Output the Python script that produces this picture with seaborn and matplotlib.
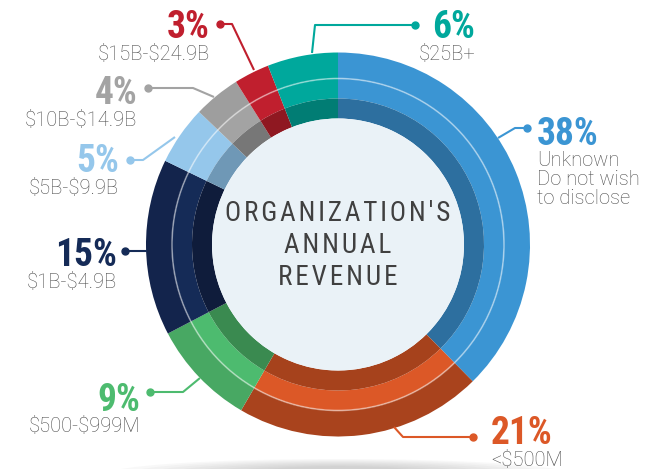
import numpy as np
import pandas as pd
import matplotlib
matplotlib.use('Agg')
import matplotlib.pyplot as plt
from matplotlib import font_manager
from matplotlib.patches import Circle, Ellipse
import seaborn as sns

# data: clockwise from 12 o'clock
categories = ['Unknown\nDo not wish\nto disclose', '<$500M', '$500-$999M', '$1B-$4.9B',
              '$5B-$9.9B', '$10B-$14.9B', '$15B-$24.9B', '$25B+']
shares = [38, 21, 9, 15, 5, 4, 3, 6]
pct_labels = ['38%', '21%', '9%', '15%', '5%', '4%', '3%', '6%']
title_lines = ["ORGANIZATION'S", 'ANNUAL', 'REVENUE']

# ring colours (outer, middle, inner) per segment
outer_cols = ['#3b95d3', '#a9431d', '#48a863', '#13244c', '#95c7eb', '#9e9e9e', '#c01f2e', '#00a89c']
mid_cols = ['#3b95d3', '#dc5827', '#4dbb6f', '#152b57', '#95c7eb', '#a3a3a3', '#c01f2e', '#00a89c']
inner_cols = ['#2d6f9f', '#a6421c', '#3a8a50', '#0f1c3b', '#6f98b6', '#777777', '#8f1821', '#017d74']

# label layout in pixel coords: (x, pct baseline, sub top, align, leader line points)
layout = [
    (537, 145, 151, 'left', [(527, 128), (515, 128), (498, 138)]),
    (491, 444, 451, 'left', [(473, 437), (403, 437), (394, 427)]),
    (140, 411, 417, 'right', [(150, 392), (183, 392), (200, 378)]),
    (117, 266, 273, 'right', [(125, 251), (147, 251)]),
    (119, 172, 179, 'right', [(130, 160), (143, 160), (175, 137)]),
    (137, 104, 111, 'right', [(148, 88), (193, 88), (214, 97)]),
    (210, 38, 45, 'right', [(220, 24), (232, 24), (254, 70)]),
    (475, 38, 45, 'right', [(415, 25), (315, 25), (312, 53)]),
]

sns.set_theme(style='white')
names = {f.name for f in font_manager.fontManager.ttflist}
body_font = 'Roboto' if 'Roboto' in names else 'DejaVu Sans'
cond_font = body_font
for cand in ['Roboto Condensed', 'Liberation Sans Narrow', 'Open Sans Condensed']:
    if cand in names:
        cond_font = cand
        break
plt.rcParams['font.family'] = [body_font, 'DejaVu Sans']
plt.rcParams['text.parse_math'] = False

fig = plt.figure(figsize=(6.72, 4.69), dpi=100)
ax = fig.add_axes([0, 0, 1, 1])

cx, cy, R = 338, 244.5, 192

# soft shadow under the ring
for i in range(8):
    ax.add_patch(Ellipse((cx, 474), 460 - i * 40, 30 - i * 2, color='#888888',
                         alpha=0.05, lw=0, zorder=0))

ring_specs = [(R, 26, outer_cols), (166, 20, mid_cols), (146, 20, inner_cols)]
for radius, width, cols in ring_specs:
    ax.pie(shares, colors=cols, radius=radius, center=(cx, cy), startangle=-90,
           counterclock=True, wedgeprops=dict(width=width, linewidth=0), frame=True)

# thin light line between outer and middle band
ax.add_patch(Circle((cx, cy), 166, fill=False, edgecolor='white', alpha=0.45, lw=1.2, zorder=5))
# centre disc
ax.add_patch(Circle((cx, cy), 126, facecolor='#eaf2f7', edgecolor='none', zorder=6))

for line, yb in zip(title_lines, [221, 253, 285]):
    spaced = '\u200a'.join(line)
    ax.text(cx, yb, spaced, ha='center', va='baseline', fontsize=19.5,
            color='#404040', family=[cond_font, 'DejaVu Sans'], zorder=7)

for cat, pct, col, lay in zip(categories, pct_labels, mid_cols, layout):
    x, yp, ys, ha, pts = lay
    ax.text(x, yp, pct, ha=ha, va='baseline', fontsize=27, fontweight='bold',
            color=col, family=cond_font, zorder=8)
    ax.text(x, ys, cat, ha=ha, va='top', fontsize=14.5, color='#4d4d4d',
            fontweight='light', linespacing=1.0, zorder=8)
    xs = [p[0] for p in pts]
    yv = [p[1] for p in pts]
    ax.plot(xs, yv, color=col, lw=1.5, zorder=8, solid_capstyle='butt')
    ax.plot(xs[0], yv[0], 'o', color=col, ms=5, zorder=8)

ax.set_xlim(0, 672)
ax.set_ylim(469, 0)
ax.set_aspect('equal')
ax.axis('off')

fig.savefig('out.png', dpi=100, facecolor='white')
